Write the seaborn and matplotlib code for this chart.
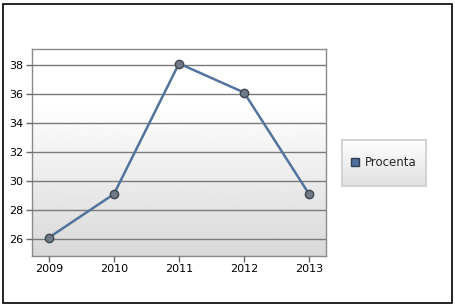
import numpy as np
import pandas as pd
import matplotlib
matplotlib.use("Agg")
import matplotlib.pyplot as plt
import matplotlib.patches as mpatches
from matplotlib.lines import Line2D
import seaborn as sns

years = [2009, 2010, 2011, 2012, 2013]
procenta = [26.1, 29.1, 38.1, 36.1, 29.1]
series_name = "Procenta"
yticks = [26, 28, 30, 32, 34, 36, 38]

sns.set_theme(style="white")
plt.rcParams['font.family'] = ['DejaVu Sans']

W, H = 456, 307
fig = plt.figure(figsize=(W/100, H/100), dpi=100)
fig.patch.set_facecolor("white")

# outer border
fig.add_artist(mpatches.Rectangle((3/W, 4/H), 449/W, 299/H, transform=fig.transFigure,
                                  fill=False, edgecolor="black", linewidth=1.2))

ax = fig.add_axes([32/W, 1 - 256/H, (326-32)/W, (256-49)/H])

# background gradient
grad = np.concatenate([np.full(25, 1.0), np.linspace(1.0, 0.85, 75)])[:, None]
ax.imshow(np.repeat(grad, 2, axis=1), cmap="gray", vmin=0, vmax=1, aspect="auto",
          extent=[0, 1, 0, 1], transform=ax.transAxes, zorder=0, origin="upper",
          interpolation="bilinear")

df = pd.DataFrame({"year": years, "value": procenta})
sns.lineplot(data=df, x="year", y="value", ax=ax, color="#52739c", linewidth=1.8,
             marker="o", markersize=6, markerfacecolor="#6f7a88",
             markeredgecolor="#3e4650", markeredgewidth=1, zorder=3)

ax.set_xlim(2008.74, 2013.26)
ax.set_ylim(24.83, 39.1)
ax.set_xticks(years)
ax.set_yticks(yticks)
ax.set_xticklabels([str(y) for y in years])
ax.set_xlabel("")
ax.set_ylabel("")
ax.grid(axis="y", color="#7a7a7a", linewidth=1, zorder=1)
ax.set_axisbelow(False)
for s in ax.spines.values():
    s.set_color("#8a8a8a")
    s.set_linewidth(1)
ax.tick_params(axis="both", which="both", length=4, width=1, color="#6a6a6a",
               labelsize=8, labelcolor="black", direction="out", pad=2,
               left=True, bottom=True)

# legend box
lx0, ly0, lw, lh = 342, 140, 84, 46
lax = fig.add_axes([lx0/W, 1 - (ly0+lh)/H, lw/W, lh/H])
lgrad = np.linspace(1.0, 0.88, 50)[:, None]
lax.imshow(np.repeat(lgrad, 2, axis=1), cmap="gray", vmin=0, vmax=1, aspect="auto",
           extent=[0, 1, 0, 1], origin="upper", interpolation="bilinear")
lax.set_xlim(0, 1)
lax.set_ylim(0, 1)
lax.set_xticks([])
lax.set_yticks([])
for s in lax.spines.values():
    s.set_color("#cfcfcf")
handle = Line2D([], [], marker="s", linestyle="none", markersize=6,
                markerfacecolor="#4d6f99", markeredgecolor="#2e3e55")
leg = lax.legend([handle], [series_name], loc="center", bbox_to_anchor=(0.45, 0.5),
                 frameon=False, fontsize=8.5, handletextpad=-0.2, borderaxespad=0)

fig.savefig("out.png", dpi=100)
